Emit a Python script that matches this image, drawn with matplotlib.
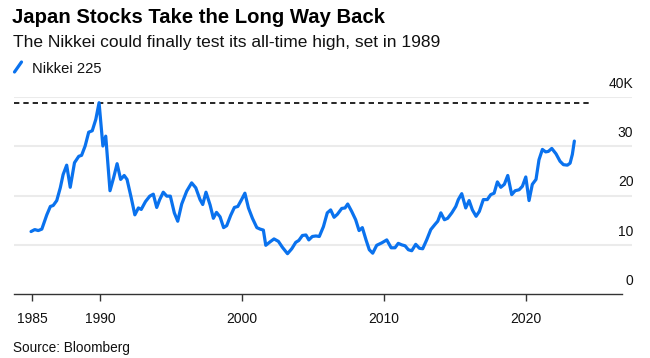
import matplotlib
matplotlib.use("Agg")
import matplotlib.pyplot as plt
from matplotlib.lines import Line2D

# ---- data (Nikkei 225, thousands of yen) ----
dates = [1985.14, 1985.4, 1985.65, 1985.9, 1986.25, 1986.5, 1986.7, 1986.95,
         1987.2, 1987.4, 1987.65, 1987.9, 1988.2, 1988.5, 1988.7, 1988.95,
         1989.2, 1989.45, 1989.7, 1989.93, 1990.2, 1990.4, 1990.7, 1990.95,
         1991.2, 1991.45, 1991.7, 1991.9, 1992.2, 1992.45, 1992.7, 1992.9,
         1993.2, 1993.5, 1993.75, 1993.99, 1994.2, 1994.45, 1994.7, 1994.95,
         1995.23, 1995.47, 1995.75, 1996.1, 1996.45, 1996.74, 1997.04, 1997.23,
         1997.46, 1997.75, 1997.98, 1998.2, 1998.45, 1998.7, 1998.92, 1999.2,
         1999.46, 1999.7, 1999.93, 2000.2, 2000.45, 2000.73, 2001.04, 2001.27,
         2001.5, 2001.67, 2001.97, 2002.25, 2002.56, 2002.84, 2003.2, 2003.5,
         2003.78, 2004.0, 2004.25, 2004.5, 2004.7, 2004.95, 2005.2, 2005.44,
         2005.73, 2006.0, 2006.24, 2006.48, 2006.71, 2007.02, 2007.25, 2007.44,
         2007.72, 2008.0, 2008.24, 2008.47, 2008.73, 2008.96, 2009.2, 2009.48,
         2009.84, 2010.19, 2010.5, 2010.77, 2011.0, 2011.24, 2011.48, 2011.71,
         2011.95, 2012.23, 2012.49, 2012.72, 2013.0, 2013.29, 2013.6, 2013.78,
         2014.0, 2014.25, 2014.48, 2014.77, 2015.05, 2015.23, 2015.47, 2015.75,
         2015.99, 2016.22, 2016.48, 2016.71, 2016.99, 2017.27, 2017.51, 2017.75,
         2017.98, 2018.22, 2018.47, 2018.71, 2018.99, 2019.23, 2019.51, 2019.74,
         2019.98, 2020.21, 2020.44, 2020.7, 2020.91, 2021.15, 2021.38, 2021.57,
         2021.81, 2022.11, 2022.39, 2022.63, 2022.91, 2023.1, 2023.26, 2023.4]
nikkei = [12.7, 13.1, 12.9, 13.2, 16.1, 17.8, 18.0, 19.0,
          21.6, 24.3, 26.2, 21.7, 26.7, 28.0, 28.2, 30.1,
          32.9, 33.2, 35.5, 38.9, 30.1, 32.1, 21.0, 23.6,
          26.5, 23.3, 24.1, 23.3, 19.5, 16.1, 17.5, 17.2,
          18.8, 19.9, 20.3, 17.6, 19.2, 20.7, 19.9, 19.9,
          16.5, 14.8, 18.3, 20.9, 22.6, 21.6, 19.2, 18.2,
          20.7, 18.1, 15.4, 16.6, 15.7, 13.5, 13.9, 16.0,
          17.6, 17.8, 19.0, 20.5, 17.5, 15.4, 13.5, 13.2,
          13.0, 9.9, 10.6, 11.2, 10.7, 9.5, 8.2, 9.2,
          10.5, 10.9, 11.9, 12.0, 11.0, 11.7, 11.8, 11.7,
          13.7, 16.5, 17.1, 15.6, 16.2, 17.4, 17.5, 18.3,
          16.8, 15.1, 12.9, 13.5, 11.0, 9.0, 8.3, 9.9,
          10.4, 11.0, 9.4, 9.4, 10.3, 10.0, 9.8, 9.0,
          8.8, 10.1, 9.3, 9.2, 11.0, 13.1, 14.2, 14.8,
          16.5, 15.1, 15.4, 16.5, 17.8, 19.2, 20.4, 17.5,
          19.0, 17.1, 15.8, 16.8, 19.2, 19.2, 20.2, 20.5,
          22.8, 21.7, 22.3, 24.1, 20.2, 21.0, 21.2, 21.9,
          23.8, 19.0, 22.3, 23.3, 27.3, 29.4, 28.9, 29.0,
          29.6, 28.5, 27.0, 26.3, 26.2, 26.6, 28.4, 31.1]
all_time_high = 38.92
ytick_values = [0, 10, 20, 30, 40]
ytick_labels = ["0", "10", "20", "30", "40K"]
xtick_values = [1985.2, 1990, 2000, 2010, 2020]
xtick_labels = ["1985", "1990", "2000", "2010", "2020"]

title = "Japan Stocks Take the Long Way Back"
subtitle = "The Nikkei could finally test its all-time high, set in 1989"
legend_label = "Nikkei 225"
source = "Source: Bloomberg"

BLUE = "#0a72ee"
W, H = 650, 358
plt.rcParams['font.family'] = ['Liberation Sans', 'DejaVu Sans']

fig = plt.figure(figsize=(W / 100, H / 100), dpi=100)
fig.patch.set_facecolor("white")

def fx(px):
    return px / W

def fy(py):
    return 1 - py / H

ax_left, ax_right, ax_top, ax_bottom = 14, 632, 97.3, 294
ax = fig.add_axes([fx(ax_left), fy(ax_bottom), (ax_right - ax_left) / W,
                   (ax_bottom - ax_top) / H])
ax.set_xlim(1983.94, 2027.46)
ax.set_ylim(0, 40)
for s in ax.spines.values():
    s.set_visible(False)
ax.set_yticks([])
ax.tick_params(axis='x', length=5, width=1, color="#333333", pad=8,
               labelsize=10, labelcolor="#111111")
ax.set_xticks(xtick_values)
ax.set_xticklabels(xtick_labels)

# gridlines
for v in ytick_values[1:]:
    ax.axhline(v, color="#ebebeb", lw=1.5, zorder=1)
# baseline axis
ax.axhline(0, xmin=0, xmax=(622 - ax_left) / (ax_right - ax_left),
           color="#333333", lw=1, zorder=3, clip_on=False)

# y labels
for v, lab in zip(ytick_values, ytick_labels):
    ax.annotate(lab, xy=(1.0, v), xycoords=('axes fraction', 'data'),
                xytext=(1, 9.5), textcoords='offset points',
                ha='right', va='center', fontsize=10, color="#111111",
                annotation_clip=False)

# all-time high dashed line
ax.plot([1983.94, 2024.65], [all_time_high, all_time_high], color="black",
        lw=1.2, ls=(0, (3.2, 2.4)), zorder=2, clip_on=False)

# series
ax.plot(dates, nikkei, color=BLUE, lw=2.3, zorder=4, solid_joinstyle='round',
        solid_capstyle='round')

# titles
fig.text(fx(12), fy(23), title, fontsize=14.6, fontweight='bold',
         color="#000000", va='baseline', ha='left')
fig.text(fx(13), fy(47), subtitle, fontsize=12.5, color="#111111",
         va='baseline', ha='left')
fig.add_artist(Line2D([fx(14.5), fx(21.5)], [fy(72), fy(62)], color=BLUE,
                      lw=2.3, solid_capstyle='round'))
fig.text(fx(32), fy(73), legend_label, fontsize=10.6, color="#111111",
         va='baseline', ha='left')
fig.text(fx(13), fy(352), source, fontsize=9.8, color="#111111",
         va='baseline', ha='left')

fig.savefig("out.png", dpi=100, facecolor="white")
